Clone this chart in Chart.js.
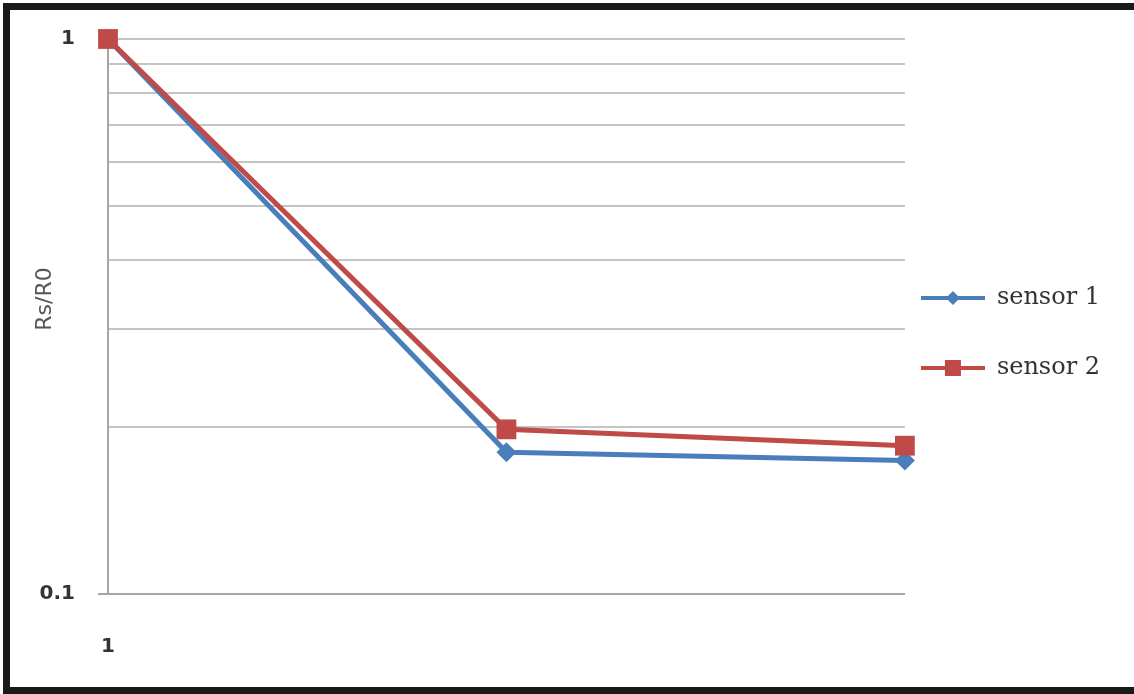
<!DOCTYPE html>
<html>
<head>
<meta charset="utf-8">
<script src="https://cdn.jsdelivr.net/npm/chart.js@4/dist/chart.umd.min.js"></script>
<style>
    html, body { margin: 0; padding: 0; background: #fff; }
    #moldura {
        position: absolute; left: 3px; top: 3px; width: 1131px; height: 691px;
        box-sizing: border-box;
        border-top: 7px solid #1a1a1a; border-left: 7px solid #1a1a1a; border-bottom: 7px solid #1a1a1a;
    }
    #grafico { position: absolute; left: 0; top: 0; }
</style>
</head>
<body>
<div id="moldura"></div>
<canvas id="grafico" width="1134" height="694"></canvas>
<script>
// dados
const categorias = ['1', '', ''];
const sensor1 = [1.0, 0.18, 0.174];
const sensor2 = [1.0, 0.198, 0.185];
const gradeY = [0.1, 0.2, 0.3, 0.4, 0.5, 0.6, 0.7, 0.8, 0.9, 1];
const rotulosY = [0.1, 1];
const nomes = ['sensor 1', 'sensor 2'];

const azul = '#4a7ebb';
const vermelho = '#be4b48';

// amostra da legenda: linha + marcador
function amostraLegenda(cor, forma) {
    const c = document.createElement('canvas');
    c.width = 64;
    c.height = 24;
    const ctx = c.getContext('2d');
    ctx.strokeStyle = cor;
    ctx.lineWidth = 4;
    ctx.beginPath();
    ctx.moveTo(0, 12);
    ctx.lineTo(64, 12);
    ctx.stroke();
    ctx.fillStyle = cor;
    if (forma === 'quadrado') {
        ctx.fillRect(24, 4, 16, 16);
    } else {
        ctx.beginPath();
        ctx.moveTo(32, 5);
        ctx.lineTo(39, 12);
        ctx.lineTo(32, 19);
        ctx.lineTo(25, 12);
        ctx.closePath();
        ctx.fill();
    }
    return c;
}

const amostras = [amostraLegenda(azul, 'losango'), amostraLegenda(vermelho, 'quadrado')];

const ctx = document.getElementById('grafico').getContext('2d');

new Chart(ctx, {
    type: 'line',
    data: {
        labels: categorias,
        datasets: [
            {
                label: nomes[0],
                data: sensor1,
                borderColor: azul,
                backgroundColor: azul,
                borderWidth: 5,
                pointStyle: 'rectRot',
                pointRadius: 10,
                pointBorderWidth: 0,
                tension: 0,
                clip: false,
                order: 2
            },
            {
                label: nomes[1],
                data: sensor2,
                borderColor: vermelho,
                backgroundColor: vermelho,
                borderWidth: 5,
                pointStyle: 'rect',
                pointRadius: 14,
                pointBorderWidth: 0,
                tension: 0,
                clip: false,
                order: 1
            }
        ]
    },
    options: {
        responsive: false,
        animation: false,
        layout: {
            padding: { left: 12, top: 39, right: 24, bottom: 37 }
        },
        plugins: {
            tooltip: { enabled: false },
            legend: {
                position: 'right',
                labels: {
                    usePointStyle: true,
                    pointStyleWidth: 64,
                    padding: 16,
                    color: '#333',
                    font: { family: 'DejaVu Serif', size: 24, lineHeight: 2.25 },
                    generateLabels: (chart) => {
                        const itens = Chart.defaults.plugins.legend.labels.generateLabels(chart);
                        itens.sort((a, b) => a.datasetIndex - b.datasetIndex);
                        return itens.map(item => ({
                            ...item,
                            text: [item.text],
                            pointStyle: amostras[item.datasetIndex]
                        }));
                    }
                }
            }
        },
        scales: {
            x: {
                offset: false,
                afterFit: (scale) => { scale.height = 63; },
                grid: { display: false, drawTicks: false },
                border: { display: true, color: '#a6a6a6', width: 2 },
                ticks: {
                    padding: 41,
                    maxRotation: 0,
                    autoSkip: false,
                    color: '#333',
                    font: { family: 'DejaVu Sans', size: 20, weight: 'bold' }
                }
            },
            y: {
                type: 'logarithmic',
                min: 0.1,
                max: 1,
                afterFit: (scale) => { scale.width = 96; },
                afterBuildTicks: (scale) => {
                    scale.ticks = gradeY.map(v => ({ value: v }));
                },
                grid: {
                    color: '#c4c4c4',
                    lineWidth: 2,
                    tickLength: 10,
                    tickColor: (c) => (c.tick && Math.abs(c.tick.value - 0.1) < 1e-9) ? '#a6a6a6' : 'rgba(0,0,0,0)'
                },
                border: { display: true, color: '#a6a6a6', width: 2 },
                ticks: {
                    padding: 23,
                    autoSkip: false,
                    color: '#333',
                    font: { family: 'DejaVu Sans', size: 20, weight: 'bold' },
                    callback: (valor) => {
                        const r = rotulosY.find(v => Math.abs(v - valor) < 1e-9);
                        return r !== undefined ? String(r) : '';
                    }
                },
                title: {
                    display: true,
                    // espaços à frente sobem o título um pouco, como no original
                    text: '     Rs/R0',
                    color: '#555',
                    padding: { top: 20, bottom: 0 },
                    font: { family: 'DejaVu Sans', size: 22 }
                }
            }
        }
    }
});
</script>
</body>
</html>
